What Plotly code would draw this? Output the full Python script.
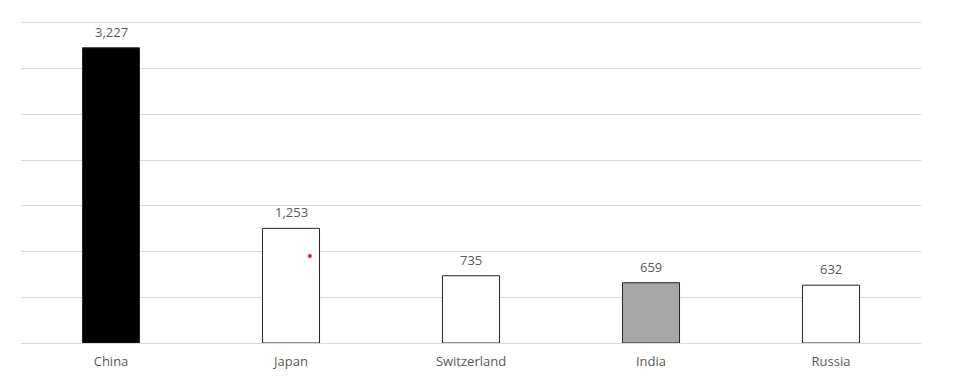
import plotly.graph_objects as go

countries = ["China", "Japan", "Switzerland", "India", "Russia"]
values = [3227, 1253, 735, 659, 632]
bar_colors = ["#000000", "#ffffff", "#ffffff", "#a6a6a6", "#ffffff"]
value_labels = [f"{v:,}" for v in values]

marker_x = [1.105]
marker_y = [950]

fig = go.Figure()
fig.add_trace(go.Bar(
    x=countries, y=values,
    marker=dict(color=bar_colors, line=dict(color="#262626", width=1)),
    width=0.317, hoverinfo="x+y",
))
fig.add_trace(go.Scatter(
    x=marker_x, y=marker_y, xaxis="x2", mode="markers",
    marker=dict(color="#e31a1c", size=4), showlegend=False,
))
for c, v, t in zip(countries, values, value_labels):
    fig.add_annotation(x=c, y=v, text=t, showarrow=False, yanchor="bottom",
                       yshift=5, font=dict(size=13, color="#595959"))
fig.update_layout(
    width=964, height=380,
    margin=dict(l=21, r=43, t=21, b=37, autoexpand=False),
    paper_bgcolor="white", plot_bgcolor="white",
    showlegend=False,
    font=dict(family="Open Sans, sans-serif", color="#595959", size=13),
    xaxis=dict(showgrid=False, showline=False, ticks="", ticklabelstandoff=9,
               automargin=False, tickfont=dict(size=13, color="#595959")),
    xaxis2=dict(overlaying="x", range=[-0.5, 4.5], visible=False),
    yaxis=dict(range=[0, 3520], dtick=500, showgrid=True, gridcolor="#d9d9d9",
               gridwidth=1, showticklabels=False, zeroline=True, zerolinecolor="#d9d9d9",
               zerolinewidth=1, automargin=False),
)
fig.write_html(
    "out.html",
    config={"displayModeBar": False},
    post_script="document.body.style.margin='0';document.documentElement.style.overflow='hidden';",
)
